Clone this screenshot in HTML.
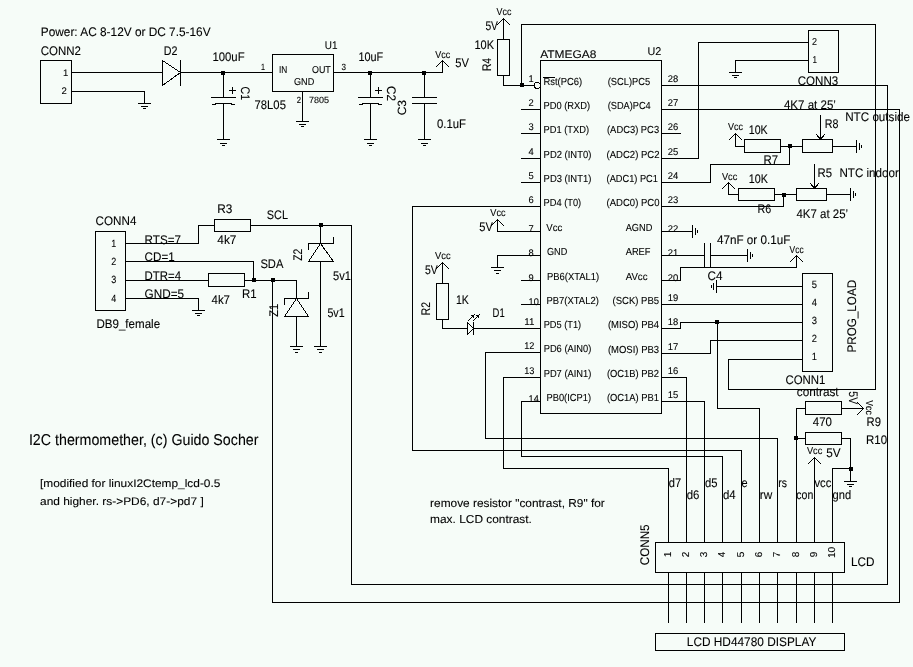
<!DOCTYPE html>
<html><head><meta charset="utf-8"><style>
html,body{margin:0;padding:0;background:#f6fcf8;}
svg{display:block;}
.w polyline,.w line,.w rect,.w circle{fill:none;stroke:#000;stroke-width:1;stroke-linecap:square;}
.w rect.f,.w polygon.f{fill:#000;stroke:none;}
.t text{font-family:"Liberation Sans",sans-serif;fill:#000;stroke:#000;stroke-width:0.1;}
</style></head><body>
<svg width="913" height="667" viewBox="0 0 913 667">
<rect width="913" height="667" fill="#f6fcf8"/>
<g class="w" shape-rendering="crispEdges">
<rect x="40.5" y="60.5" width="31" height="43"/>
<polyline points="71.5,72.5 162.5,72.5"/>
<polyline points="162.5,60.5 162.5,85.5 180.5,72.5 162.5,60.5"/>
<polyline points="180.5,60.5 180.5,85.5"/>
<polyline points="180.5,72.5 272.5,72.5"/>
<rect class="f" x="221" y="71" width="4" height="4"/>
<polyline points="223.5,72.5 223.5,97.5"/>
<polyline points="211.5,97.5 235.5,97.5"/>
<polyline points="212.5,104.5 215.5,104.5 215.5,103.5 231.5,103.5 231.5,104.5 234.5,104.5"/>
<polyline points="223.5,103.5 223.5,139.5"/>
<polyline points="217.5,139.5 229.5,139.5"/>
<polyline points="220.5,143.5 226.5,143.5"/>
<polyline points="222.5,145.5 224.5,145.5"/>
<polyline points="229.5,90.5 235.5,90.5"/>
<polyline points="232.5,87.5 232.5,93.5"/>
<polyline points="71.5,91.5 144.5,91.5 144.5,103.5"/>
<polyline points="138.5,103.5 150.5,103.5"/>
<polyline points="141.5,106.5 147.5,106.5"/>
<polyline points="143.5,108.5 145.5,108.5"/>
<rect x="272.5" y="54.5" width="61" height="37"/>
<polyline points="302.5,91.5 302.5,121.5"/>
<polyline points="296.5,121.5 308.5,121.5"/>
<polyline points="299.5,124.5 305.5,124.5"/>
<polyline points="301.5,126.5 303.5,126.5"/>
<polyline points="333.5,72.5 442.5,72.5"/>
<rect class="f" x="368" y="71" width="4" height="4"/>
<polyline points="370.5,72.5 370.5,97.5"/>
<polyline points="358.5,97.5 382.5,97.5"/>
<polyline points="359.5,104.5 362.5,104.5 362.5,103.5 378.5,103.5 378.5,104.5 381.5,104.5"/>
<polyline points="370.5,103.5 370.5,139.5"/>
<polyline points="364.5,139.5 376.5,139.5"/>
<polyline points="367.5,143.5 373.5,143.5"/>
<polyline points="369.5,145.5 371.5,145.5"/>
<polyline points="375.5,90.5 381.5,90.5"/>
<polyline points="378.5,87.5 378.5,93.5"/>
<rect class="f" x="422" y="71" width="4" height="4"/>
<polyline points="424.5,72.5 424.5,97.5"/>
<polyline points="412.5,97.5 436.5,97.5"/>
<polyline points="412.5,103.5 436.5,103.5"/>
<polyline points="424.5,103.5 424.5,139.5"/>
<polyline points="418.5,139.5 430.5,139.5"/>
<polyline points="421.5,143.5 427.5,143.5"/>
<polyline points="423.5,145.5 425.5,145.5"/>
<polyline points="442.5,72.5 442.5,60.5"/>
<polyline points="436.5,66.5 442.5,60.5 448.5,66.5"/>
<polyline points="503.5,18.5 503.5,39.5"/>
<polyline points="497.5,24.5 503.5,18.5 509.5,24.5"/>
<rect x="497.5" y="39.5" width="12" height="36"/>
<polyline points="503.5,75.5 503.5,85.5 534.5,85.5"/>
<rect class="f" x="520" y="83" width="4" height="4"/>
<polyline points="521.5,85.5 521.5,24.5 875.5,24.5 875.5,389.5"/>
<circle cx="537.3" cy="85.4" r="3"/>
<rect x="540.5" y="60.5" width="121" height="353"/>
<polyline points="521.5,109.5 540.5,109.5"/>
<polyline points="521.5,133.5 540.5,133.5"/>
<polyline points="521.5,158.5 540.5,158.5"/>
<polyline points="521.5,182.5 540.5,182.5"/>
<polyline points="521.5,280.5 540.5,280.5"/>
<polyline points="521.5,304.5 540.5,304.5"/>
<polyline points="521.5,401.5 540.5,401.5"/>
<polyline points="543.5,77.5 554.5,77.5"/>
<polyline points="412.5,450.5 412.5,206.5 540.5,206.5"/>
<polyline points="412.5,450.5 741.5,450.5 741.5,542.5"/>
<polyline points="540.5,231.5 497.5,231.5 497.5,219.5"/>
<polyline points="491.5,225.5 497.5,219.5 503.5,225.5"/>
<polyline points="540.5,255.5 497.5,255.5 497.5,267.5"/>
<polyline points="491.5,267.5 503.5,267.5"/>
<polyline points="494.5,270.5 500.5,270.5"/>
<polyline points="496.5,273.5 498.5,273.5"/>
<polyline points="442.5,262.5 442.5,283.5"/>
<polyline points="436.5,268.5 442.5,262.5 448.5,268.5"/>
<rect x="436.5" y="283.5" width="12" height="36"/>
<polyline points="442.5,319.5 442.5,328.5 467.5,328.5"/>
<polyline points="473.5,328.5 540.5,328.5"/>
<polyline points="467.5,322.5 467.5,334.5 473.5,328.5 467.5,322.5"/>
<polyline points="473.5,322.5 473.5,334.5"/>
<line x1="468.5" y1="320.5" x2="473.5" y2="315.5"/>
<line x1="473.5" y1="320.5" x2="478.5" y2="315.5"/>
<polygon class="f" points="475,314 471.5,315.5 473.5,317.5"/>
<polygon class="f" points="480,314 476.5,315.5 478.5,317.5"/>
<polyline points="540.5,352.5 485.5,352.5 485.5,438.5 777.5,438.5 777.5,542.5"/>
<polyline points="540.5,377.5 503.5,377.5 503.5,468.5 668.5,468.5 668.5,542.5"/>
<polyline points="521.5,401.5 521.5,456.5 722.5,456.5 722.5,542.5"/>
<polyline points="661.5,85.5 887.5,85.5 887.5,584.5 351.5,584.5"/>
<polyline points="661.5,109.5 899.5,109.5 899.5,602.5 272.5,602.5"/>
<polyline points="661.5,133.5 680.5,133.5"/>
<polyline points="661.5,158.5 698.5,158.5 698.5,42.5 808.5,42.5"/>
<rect x="808.5" y="30.5" width="30" height="42"/>
<polyline points="808.5,60.5 735.5,60.5 735.5,72.5"/>
<polyline points="729.5,72.5 741.5,72.5"/>
<polyline points="732.5,75.5 738.5,75.5"/>
<polyline points="734.5,77.5 736.5,77.5"/>
<polyline points="661.5,182.5 710.5,182.5 710.5,164.5 789.5,164.5 789.5,146.5"/>
<polyline points="729.5,139.5 735.5,133.5 741.5,139.5"/>
<polyline points="735.5,133.5 735.5,146.5 744.5,146.5"/>
<rect x="744.5" y="139.5" width="36" height="13"/>
<polyline points="780.5,146.5 802.5,146.5"/>
<rect class="f" x="788" y="144" width="4" height="4"/>
<rect x="802.5" y="139.5" width="30" height="13"/>
<polyline points="820.5,115.5 820.5,139.5"/>
<polyline points="816.5,134.5 820.5,139.5 824.5,134.5"/>
<polyline points="832.5,146.5 856.5,146.5"/>
<polyline points="856.5,140.5 856.5,152.5"/>
<polyline points="859.5,143.5 859.5,149.5"/>
<polyline points="861.5,145.5 861.5,147.5"/>
<polyline points="661.5,206.5 783.5,206.5 783.5,194.5"/>
<polyline points="722.5,188.5 728.5,182.5 734.5,188.5"/>
<polyline points="728.5,182.5 728.5,194.5 738.5,194.5"/>
<rect x="738.5" y="188.5" width="36" height="12"/>
<polyline points="774.5,194.5 796.5,194.5"/>
<rect class="f" x="782" y="193" width="4" height="4"/>
<rect x="796.5" y="188.5" width="30" height="12"/>
<polyline points="814.5,164.5 814.5,188.5"/>
<polyline points="810.5,183.5 814.5,188.5 818.5,183.5"/>
<polyline points="826.5,194.5 850.5,194.5"/>
<polyline points="850.5,188.5 850.5,200.5"/>
<polyline points="853.5,191.5 853.5,197.5"/>
<polyline points="855.5,193.5 855.5,195.5"/>
<polyline points="661.5,231.5 692.5,231.5"/>
<polyline points="692.5,225.5 692.5,237.5"/>
<polyline points="695.5,228.5 695.5,234.5"/>
<polyline points="697.5,230.5 697.5,232.5"/>
<polyline points="661.5,255.5 704.5,255.5"/>
<polyline points="704.5,243.5 704.5,267.5"/>
<polyline points="710.5,243.5 710.5,267.5"/>
<polyline points="710.5,255.5 747.5,255.5"/>
<polyline points="747.5,249.5 747.5,261.5"/>
<polyline points="750.5,252.5 750.5,258.5"/>
<polyline points="752.5,254.5 752.5,256.5"/>
<polyline points="661.5,280.5 680.5,280.5 680.5,267.5 796.5,267.5 796.5,255.5"/>
<polyline points="790.5,261.5 796.5,255.5 802.5,261.5"/>
<rect x="802.5" y="273.5" width="30" height="98"/>
<polyline points="716.5,280.5 716.5,292.5"/>
<polyline points="713.5,283.5 713.5,289.5"/>
<polyline points="711.5,285.5 711.5,287.5"/>
<polyline points="716.5,286.5 802.5,286.5"/>
<polyline points="661.5,304.5 802.5,304.5"/>
<polyline points="661.5,328.5 680.5,328.5 680.5,322.5 802.5,322.5"/>
<rect class="f" x="715" y="320" width="4" height="4"/>
<polyline points="717.5,322.5 717.5,408.5 759.5,408.5 759.5,542.5"/>
<polyline points="661.5,353.5 710.5,353.5 710.5,340.5 802.5,340.5"/>
<polyline points="802.5,359.5 728.5,359.5 728.5,389.5 875.5,389.5"/>
<polyline points="661.5,377.5 686.5,377.5 686.5,542.5"/>
<polyline points="661.5,401.5 704.5,401.5 704.5,542.5"/>
<rect x="805.5" y="401.5" width="36" height="13"/>
<polyline points="796.5,408.5 805.5,408.5"/>
<polyline points="796.5,408.5 796.5,542.5"/>
<polyline points="841.5,408.5 863.5,408.5"/>
<polyline points="857.5,402.5 863.5,408.5 857.5,414.5"/>
<rect x="805.5" y="432.5" width="36" height="12"/>
<rect class="f" x="794" y="436" width="4" height="4"/>
<polyline points="796.5,438.5 805.5,438.5"/>
<polyline points="841.5,438.5 850.5,438.5 850.5,481.5"/>
<rect class="f" x="849" y="467" width="4" height="4"/>
<polyline points="850.5,468.5 832.5,468.5 832.5,542.5"/>
<polyline points="844.5,481.5 856.5,481.5"/>
<polyline points="847.5,484.5 853.5,484.5"/>
<polyline points="849.5,486.5 851.5,486.5"/>
<polyline points="808.5,463.5 814.5,457.5 820.5,463.5"/>
<polyline points="814.5,457.5 814.5,542.5"/>
<rect x="655.5" y="542.5" width="189" height="30"/>
<rect x="655.5" y="633.5" width="189" height="17"/>
<polyline points="668.5,572.5 668.5,622.5"/>
<polyline points="686.5,572.5 686.5,622.5"/>
<polyline points="704.5,572.5 704.5,622.5"/>
<polyline points="722.5,572.5 722.5,622.5"/>
<polyline points="741.5,572.5 741.5,622.5"/>
<polyline points="759.5,572.5 759.5,622.5"/>
<polyline points="777.5,572.5 777.5,622.5"/>
<polyline points="796.5,572.5 796.5,622.5"/>
<polyline points="814.5,572.5 814.5,622.5"/>
<polyline points="832.5,572.5 832.5,622.5"/>
<rect x="95.5" y="231.5" width="30" height="79"/>
<polyline points="125.5,243.5 198.5,243.5 198.5,225.5 214.5,225.5"/>
<rect x="214.5" y="219.5" width="36" height="12"/>
<polyline points="250.5,225.5 351.5,225.5 351.5,584.5"/>
<rect class="f" x="319" y="223" width="4" height="4"/>
<polyline points="320.5,225.5 320.5,243.5"/>
<polyline points="308.5,249.5 308.5,243.5 333.5,243.5 333.5,237.5"/>
<polyline points="308.5,261.5 333.5,261.5 320.5,243.5 308.5,261.5"/>
<polyline points="320.5,261.5 320.5,346.5"/>
<polyline points="314.5,346.5 326.5,346.5"/>
<polyline points="317.5,349.5 323.5,349.5"/>
<polyline points="319.5,352.5 321.5,352.5"/>
<polyline points="125.5,261.5 253.5,261.5 253.5,280.5"/>
<polyline points="125.5,280.5 208.5,280.5"/>
<rect x="208.5" y="273.5" width="36" height="13"/>
<polyline points="244.5,280.5 296.5,280.5 296.5,298.5"/>
<rect class="f" x="252" y="278" width="4" height="4"/>
<rect class="f" x="271" y="278" width="4" height="4"/>
<polyline points="284.5,304.5 284.5,298.5 308.5,298.5 308.5,292.5"/>
<polyline points="284.5,316.5 308.5,316.5 296.5,298.5 284.5,316.5"/>
<polyline points="296.5,316.5 296.5,346.5"/>
<polyline points="290.5,346.5 302.5,346.5"/>
<polyline points="293.5,349.5 299.5,349.5"/>
<polyline points="295.5,352.5 297.5,352.5"/>
<polyline points="272.5,280.5 272.5,602.5"/>
<polyline points="125.5,298.5 198.5,298.5 198.5,310.5"/>
<polyline points="192.5,310.5 204.5,310.5"/>
<polyline points="195.5,313.5 201.5,313.5"/>
<polyline points="197.5,315.5 199.5,315.5"/>
</g>
<g class="t" style="will-change:transform" text-rendering="geometricPrecision">
<text x="40.8" y="35.7" font-size="12.4" textLength="169.8" lengthAdjust="spacingAndGlyphs">Power: AC 8-12V or DC 7.5-16V</text>
<text x="40.8" y="54.8" font-size="12.4" textLength="40.2" lengthAdjust="spacingAndGlyphs">CONN2</text>
<text x="63" y="76" font-size="9.5">1</text>
<text x="61.5" y="94.3" font-size="9.5">2</text>
<text x="163.8" y="54.8" font-size="12.5" textLength="13.7" lengthAdjust="spacingAndGlyphs">D2</text>
<text x="212.4" y="60.6" font-size="12.5" textLength="32.2" lengthAdjust="spacingAndGlyphs">100uF</text>
<text transform="translate(245.5,93.3) rotate(90)" x="0" y="4.5" font-size="12.5" text-anchor="middle" textLength="13.5" lengthAdjust="spacingAndGlyphs">C1</text>
<text x="254.6" y="108.6" font-size="12.5" textLength="31.3" lengthAdjust="spacingAndGlyphs">78L05</text>
<text x="324.8" y="48.5" font-size="11.3" textLength="12.7" lengthAdjust="spacingAndGlyphs">U1</text>
<text x="261" y="69.8" font-size="9" textLength="4" lengthAdjust="spacingAndGlyphs">1</text>
<text x="278.9" y="72.8" font-size="10" textLength="8.3" lengthAdjust="spacingAndGlyphs">IN</text>
<text x="312" y="72.8" font-size="10" textLength="18.8" lengthAdjust="spacingAndGlyphs">OUT</text>
<text x="294" y="85" font-size="10" textLength="20.2" lengthAdjust="spacingAndGlyphs">GND</text>
<text x="341.5" y="69.8" font-size="9" textLength="4.5" lengthAdjust="spacingAndGlyphs">3</text>
<text x="296.7" y="102.8" font-size="9" textLength="4.3" lengthAdjust="spacingAndGlyphs">2</text>
<text x="309.1" y="102.8" font-size="9" textLength="20" lengthAdjust="spacingAndGlyphs">7805</text>
<text x="358.4" y="61" font-size="12.5" textLength="24.8" lengthAdjust="spacingAndGlyphs">10uF</text>
<text transform="translate(391.5,93.5) rotate(90)" x="0" y="4.5" font-size="12.5" text-anchor="middle" textLength="15" lengthAdjust="spacingAndGlyphs">C2</text>
<text transform="translate(401.6,107.7) rotate(-90)" x="0" y="4.32" font-size="12" text-anchor="middle">C3</text>
<text x="437" y="127.5" font-size="12.5" textLength="29" lengthAdjust="spacingAndGlyphs">0.1uF</text>
<text x="435.2" y="57.9" font-size="10" textLength="15" lengthAdjust="spacingAndGlyphs">Vcc</text>
<text x="455.3" y="66.7" font-size="12.5" textLength="13.7" lengthAdjust="spacingAndGlyphs">5V</text>
<text x="496.6" y="14.8" font-size="10" textLength="14.8" lengthAdjust="spacingAndGlyphs">Vcc</text>
<text x="485.4" y="30" font-size="12.5" textLength="12.6" lengthAdjust="spacingAndGlyphs">5V</text>
<text x="474.4" y="49" font-size="12.5" textLength="19.6" lengthAdjust="spacingAndGlyphs">10K</text>
<text transform="translate(486.5,64.5) rotate(-90)" x="0" y="4.5" font-size="12.5" text-anchor="middle" textLength="13" lengthAdjust="spacingAndGlyphs">R4</text>
<text x="540.2" y="57.7" font-size="11.2" textLength="56.3" lengthAdjust="spacingAndGlyphs">ATMEGA8</text>
<text x="647.4" y="55" font-size="11.3" textLength="13.8" lengthAdjust="spacingAndGlyphs">U2</text>
<text x="528.6" y="81.7" font-size="9.7" textLength="5.2" lengthAdjust="spacingAndGlyphs">1</text>
<text x="528.6" y="105.7" font-size="9.7" textLength="5.2" lengthAdjust="spacingAndGlyphs">2</text>
<text x="528.6" y="129.7" font-size="9.7" textLength="5.2" lengthAdjust="spacingAndGlyphs">3</text>
<text x="528.6" y="154.7" font-size="9.7" textLength="5.2" lengthAdjust="spacingAndGlyphs">4</text>
<text x="528.6" y="178.7" font-size="9.7" textLength="5.2" lengthAdjust="spacingAndGlyphs">5</text>
<text x="528.6" y="202.7" font-size="9.7" textLength="5.2" lengthAdjust="spacingAndGlyphs">6</text>
<text x="528.6" y="231.5" font-size="9.7" textLength="5.2" lengthAdjust="spacingAndGlyphs">7</text>
<text x="528.6" y="255.5" font-size="9.7" textLength="5.2" lengthAdjust="spacingAndGlyphs">8</text>
<text x="528.6" y="280.5" font-size="9.7" textLength="5.2" lengthAdjust="spacingAndGlyphs">9</text>
<text x="528.6" y="304.5" font-size="9.7" textLength="10.2" lengthAdjust="spacingAndGlyphs">10</text>
<text x="524.2" y="324.7" font-size="9.7" textLength="10.2" lengthAdjust="spacingAndGlyphs">11</text>
<text x="524.2" y="348.7" font-size="9.7" textLength="10.2" lengthAdjust="spacingAndGlyphs">12</text>
<text x="524.2" y="373.7" font-size="9.7" textLength="10.2" lengthAdjust="spacingAndGlyphs">13</text>
<text x="528.6" y="401.5" font-size="9.7" textLength="10.2" lengthAdjust="spacingAndGlyphs">14</text>
<text x="667.8" y="81.7" font-size="9.7" textLength="10.5" lengthAdjust="spacingAndGlyphs">28</text>
<text x="667.8" y="105.7" font-size="9.7" textLength="10.5" lengthAdjust="spacingAndGlyphs">27</text>
<text x="667.8" y="129.7" font-size="9.7" textLength="10.5" lengthAdjust="spacingAndGlyphs">26</text>
<text x="667.8" y="154.7" font-size="9.7" textLength="10.5" lengthAdjust="spacingAndGlyphs">25</text>
<text x="667.8" y="178.7" font-size="9.7" textLength="10.5" lengthAdjust="spacingAndGlyphs">24</text>
<text x="667.8" y="202.7" font-size="9.7" textLength="10.5" lengthAdjust="spacingAndGlyphs">23</text>
<text x="667.8" y="231.5" font-size="9.7" textLength="10.5" lengthAdjust="spacingAndGlyphs">22</text>
<text x="667.8" y="255.5" font-size="9.7" textLength="10.5" lengthAdjust="spacingAndGlyphs">21</text>
<text x="667.8" y="280.5" font-size="9.7" textLength="10.5" lengthAdjust="spacingAndGlyphs">20</text>
<text x="667.8" y="300.7" font-size="9.7" textLength="10.5" lengthAdjust="spacingAndGlyphs">19</text>
<text x="667.8" y="324.7" font-size="9.7" textLength="10.5" lengthAdjust="spacingAndGlyphs">18</text>
<text x="667.8" y="349.7" font-size="9.7" textLength="10.5" lengthAdjust="spacingAndGlyphs">17</text>
<text x="667.8" y="373.7" font-size="9.7" textLength="10.5" lengthAdjust="spacingAndGlyphs">16</text>
<text x="667.8" y="397.7" font-size="9.7" textLength="10.5" lengthAdjust="spacingAndGlyphs">15</text>
<text x="543.5" y="85.3" font-size="10.2" textLength="38.7" lengthAdjust="spacingAndGlyphs">Rst(PC6)</text>
<text x="543.5" y="109.3" font-size="10.2" textLength="46.7" lengthAdjust="spacingAndGlyphs">PD0 (RXD)</text>
<text x="543.5" y="133.3" font-size="10.2" textLength="45.5" lengthAdjust="spacingAndGlyphs">PD1 (TXD)</text>
<text x="543.6" y="158.3" font-size="10.2" textLength="47.7" lengthAdjust="spacingAndGlyphs">PD2 (INT0)</text>
<text x="543.6" y="182.3" font-size="10.2" textLength="47.7" lengthAdjust="spacingAndGlyphs">PD3 (INT1)</text>
<text x="543.6" y="206.3" font-size="10.2" textLength="37.6" lengthAdjust="spacingAndGlyphs">PD4 (T0)</text>
<text x="546.3" y="231.3" font-size="10.2" textLength="16" lengthAdjust="spacingAndGlyphs">Vcc</text>
<text x="547" y="255.3" font-size="10.2" textLength="20.2" lengthAdjust="spacingAndGlyphs">GND</text>
<text x="547" y="280.3" font-size="10.2" textLength="52.2" lengthAdjust="spacingAndGlyphs">PB6(XTAL1)</text>
<text x="546.5" y="304.3" font-size="10.2" textLength="52.3" lengthAdjust="spacingAndGlyphs">PB7(XTAL2)</text>
<text x="543.7" y="328.3" font-size="10.2" textLength="37.4" lengthAdjust="spacingAndGlyphs">PD5 (T1)</text>
<text x="543.7" y="352.3" font-size="10.2" textLength="47.6" lengthAdjust="spacingAndGlyphs">PD6 (AIN0)</text>
<text x="543.7" y="377.3" font-size="10.2" textLength="47.6" lengthAdjust="spacingAndGlyphs">PD7 (AIN1)</text>
<text x="546.5" y="401.3" font-size="10.2" textLength="44.5" lengthAdjust="spacingAndGlyphs">PB0(ICP1)</text>
<text x="607.7" y="85.3" font-size="10.2" textLength="42.4" lengthAdjust="spacingAndGlyphs">(SCL)PC5</text>
<text x="607.7" y="109.3" font-size="10.2" textLength="43" lengthAdjust="spacingAndGlyphs">(SDA)PC4</text>
<text x="607" y="133.3" font-size="10.2" textLength="52.1" lengthAdjust="spacingAndGlyphs">(ADC3) PC3</text>
<text x="606.6" y="158.3" font-size="10.2" textLength="52.9" lengthAdjust="spacingAndGlyphs">(ADC2) PC2</text>
<text x="606.6" y="182.3" font-size="10.2" textLength="51.3" lengthAdjust="spacingAndGlyphs">(ADC1) PC1</text>
<text x="606.6" y="206.3" font-size="10.2" textLength="52.9" lengthAdjust="spacingAndGlyphs">(ADC0) PC0</text>
<text x="625.7" y="231.3" font-size="10.2" textLength="26.6" lengthAdjust="spacingAndGlyphs">AGND</text>
<text x="625.7" y="255.3" font-size="10.2" textLength="24.8" lengthAdjust="spacingAndGlyphs">AREF</text>
<text x="625.7" y="280.3" font-size="10.2" textLength="21.8" lengthAdjust="spacingAndGlyphs">AVcc</text>
<text x="612.5" y="304.3" font-size="10.2" textLength="46.6" lengthAdjust="spacingAndGlyphs">(SCK) PB5</text>
<text x="607.9" y="328.3" font-size="10.2" textLength="51.2" lengthAdjust="spacingAndGlyphs">(MISO) PB4</text>
<text x="607.9" y="353.3" font-size="10.2" textLength="51.2" lengthAdjust="spacingAndGlyphs">(MOSI) PB3</text>
<text x="606.9" y="377.3" font-size="10.2" textLength="52.2" lengthAdjust="spacingAndGlyphs">(OC1B) PB2</text>
<text x="606.9" y="401.3" font-size="10.2" textLength="52.2" lengthAdjust="spacingAndGlyphs">(OC1A) PB1</text>
<text x="490.3" y="216.2" font-size="10" textLength="15.2" lengthAdjust="spacingAndGlyphs">Vcc</text>
<text x="479.3" y="230.6" font-size="12.5" textLength="13.6" lengthAdjust="spacingAndGlyphs">5V</text>
<text x="435" y="259.3" font-size="10" textLength="15.6" lengthAdjust="spacingAndGlyphs">Vcc</text>
<text x="425" y="273.5" font-size="12.5" textLength="12.8" lengthAdjust="spacingAndGlyphs">5V</text>
<text transform="translate(425.5,308.6) rotate(-90)" x="0" y="4.5" font-size="12.5" text-anchor="middle" textLength="13.2" lengthAdjust="spacingAndGlyphs">R2</text>
<text x="455.9" y="303.8" font-size="12.5" textLength="12.9" lengthAdjust="spacingAndGlyphs">1K</text>
<text x="492.6" y="317" font-size="12.5" textLength="12.1" lengthAdjust="spacingAndGlyphs">D1</text>
<text x="812" y="44.5" font-size="10" textLength="5" lengthAdjust="spacingAndGlyphs">2</text>
<text x="812.5" y="63" font-size="10" textLength="4.5" lengthAdjust="spacingAndGlyphs">1</text>
<text x="797.7" y="84.8" font-size="12.5" textLength="40.5" lengthAdjust="spacingAndGlyphs">CONN3</text>
<text x="728" y="130.2" font-size="10" textLength="15" lengthAdjust="spacingAndGlyphs">Vcc</text>
<text x="748.8" y="133.5" font-size="12.5" textLength="18.9" lengthAdjust="spacingAndGlyphs">10K</text>
<text x="763.4" y="163.9" font-size="12.5" textLength="14.6" lengthAdjust="spacingAndGlyphs">R7</text>
<text x="824.7" y="127.9" font-size="12.5" textLength="13.7" lengthAdjust="spacingAndGlyphs">R8</text>
<text x="783.9" y="108.6" font-size="12.5" textLength="52" lengthAdjust="spacingAndGlyphs">4K7 at 25’</text>
<text x="845.2" y="121.4" font-size="12.5" textLength="64.8" lengthAdjust="spacingAndGlyphs">NTC outside</text>
<text x="722" y="180" font-size="10" textLength="15.3" lengthAdjust="spacingAndGlyphs">Vcc</text>
<text x="748.8" y="183" font-size="12.5" textLength="19.1" lengthAdjust="spacingAndGlyphs">10K</text>
<text x="757.5" y="212.6" font-size="12.5" textLength="13.7" lengthAdjust="spacingAndGlyphs">R6</text>
<text x="817.5" y="176.6" font-size="12.5" textLength="14.5" lengthAdjust="spacingAndGlyphs">R5</text>
<text x="839.4" y="176.6" font-size="12.5" textLength="59.4" lengthAdjust="spacingAndGlyphs">NTC indoor</text>
<text x="796.5" y="217.9" font-size="12.5" textLength="51.6" lengthAdjust="spacingAndGlyphs">4K7 at 25’</text>
<text x="716.9" y="244" font-size="12.5" textLength="73.4" lengthAdjust="spacingAndGlyphs">47nF or 0.1uF</text>
<text x="789.6" y="253" font-size="10" textLength="14" lengthAdjust="spacingAndGlyphs">Vcc</text>
<text x="707.5" y="279.8" font-size="12.5" textLength="15" lengthAdjust="spacingAndGlyphs">C4</text>
<text x="811.7" y="288" font-size="10.5" textLength="5.2" lengthAdjust="spacingAndGlyphs">5</text>
<text x="811.7" y="306" font-size="10.5" textLength="5.2" lengthAdjust="spacingAndGlyphs">4</text>
<text x="811.7" y="324" font-size="10.5" textLength="5.2" lengthAdjust="spacingAndGlyphs">3</text>
<text x="811.7" y="342" font-size="10.5" textLength="5.2" lengthAdjust="spacingAndGlyphs">2</text>
<text x="811.7" y="360" font-size="10.5" textLength="5.2" lengthAdjust="spacingAndGlyphs">1</text>
<text transform="translate(851.8,316.2) rotate(-90)" x="0" y="4.5" font-size="12.5" text-anchor="middle" textLength="72.7" lengthAdjust="spacingAndGlyphs">PROG_LOAD</text>
<text x="785.4" y="383.8" font-size="12.5" textLength="40" lengthAdjust="spacingAndGlyphs">CONN1</text>
<text x="796.8" y="395.6" font-size="12.5" textLength="41.8" lengthAdjust="spacingAndGlyphs">contrast</text>
<text transform="translate(853.8,397.8) rotate(90)" x="0" y="4.5" font-size="12.5" text-anchor="middle" textLength="13" lengthAdjust="spacingAndGlyphs">5V</text>
<text transform="translate(869.4,407.5) rotate(90)" x="0" y="3.6" font-size="10" text-anchor="middle" textLength="14.4" lengthAdjust="spacingAndGlyphs">Vcc</text>
<text x="812.8" y="425.7" font-size="12.5" textLength="19.2" lengthAdjust="spacingAndGlyphs">470</text>
<text x="866.6" y="425.7" font-size="12.5" textLength="14.4" lengthAdjust="spacingAndGlyphs">R9</text>
<text x="866" y="444.4" font-size="12.5" textLength="21" lengthAdjust="spacingAndGlyphs">R10</text>
<text x="807" y="453.6" font-size="10" textLength="15.3" lengthAdjust="spacingAndGlyphs">Vcc</text>
<text x="826.3" y="456.5" font-size="12.5" textLength="14.4" lengthAdjust="spacingAndGlyphs">5V</text>
<text x="668.8" y="487.2" font-size="12.5" textLength="12.4" lengthAdjust="spacingAndGlyphs">d7</text>
<text x="686.7" y="499.4" font-size="12.5" textLength="12.7" lengthAdjust="spacingAndGlyphs">d6</text>
<text x="704.9" y="487.2" font-size="12.5" textLength="12.5" lengthAdjust="spacingAndGlyphs">d5</text>
<text x="722.9" y="499.4" font-size="12.5" textLength="12.7" lengthAdjust="spacingAndGlyphs">d4</text>
<text x="741.5" y="487.2" font-size="12.5" textLength="6.1" lengthAdjust="spacingAndGlyphs">e</text>
<text x="759.7" y="499.4" font-size="12.5" textLength="12.5" lengthAdjust="spacingAndGlyphs">rw</text>
<text x="778.3" y="487.2" font-size="12.5" textLength="8.7" lengthAdjust="spacingAndGlyphs">rs</text>
<text x="796.3" y="499.4" font-size="12.5" textLength="17" lengthAdjust="spacingAndGlyphs">con</text>
<text x="814.4" y="487.2" font-size="12.5" textLength="16.9" lengthAdjust="spacingAndGlyphs">vcc</text>
<text x="832.6" y="499.4" font-size="12.5" textLength="18.6" lengthAdjust="spacingAndGlyphs">gnd</text>
<text transform="translate(667.5,554.4) rotate(-90)" x="0" y="3.6" font-size="10" text-anchor="middle">1</text>
<text transform="translate(685.5,554.4) rotate(-90)" x="0" y="3.6" font-size="10" text-anchor="middle">2</text>
<text transform="translate(703.5,554.4) rotate(-90)" x="0" y="3.6" font-size="10" text-anchor="middle">3</text>
<text transform="translate(721.5,554.4) rotate(-90)" x="0" y="3.6" font-size="10" text-anchor="middle">4</text>
<text transform="translate(740.5,554.4) rotate(-90)" x="0" y="3.6" font-size="10" text-anchor="middle">5</text>
<text transform="translate(758.5,554.4) rotate(-90)" x="0" y="3.6" font-size="10" text-anchor="middle">6</text>
<text transform="translate(776.5,554.4) rotate(-90)" x="0" y="3.6" font-size="10" text-anchor="middle">7</text>
<text transform="translate(795.5,554.4) rotate(-90)" x="0" y="3.6" font-size="10" text-anchor="middle">8</text>
<text transform="translate(813.5,554.4) rotate(-90)" x="0" y="3.6" font-size="10" text-anchor="middle">9</text>
<text transform="translate(831.5,552.5) rotate(-90)" x="0" y="3.6" font-size="10" text-anchor="middle">10</text>
<text transform="translate(644.2,544.8) rotate(-90)" x="0" y="4.5" font-size="12.5" text-anchor="middle" textLength="40.8" lengthAdjust="spacingAndGlyphs">CONN5</text>
<text x="851" y="565.8" font-size="12.5" textLength="23.5" lengthAdjust="spacingAndGlyphs">LCD</text>
<text x="686.8" y="646" font-size="12.5" textLength="129.6" lengthAdjust="spacingAndGlyphs">LCD HD44780 DISPLAY</text>
<text x="95.6" y="225" font-size="12.5" textLength="40.8" lengthAdjust="spacingAndGlyphs">CONN4</text>
<text x="111.2" y="247" font-size="10.5" textLength="5" lengthAdjust="spacingAndGlyphs">1</text>
<text x="111.2" y="265" font-size="10.5" textLength="5" lengthAdjust="spacingAndGlyphs">2</text>
<text x="111.2" y="283" font-size="10.5" textLength="5" lengthAdjust="spacingAndGlyphs">3</text>
<text x="111.2" y="302" font-size="10.5" textLength="5" lengthAdjust="spacingAndGlyphs">4</text>
<text x="144.6" y="243.6" font-size="12.5" textLength="36.4" lengthAdjust="spacingAndGlyphs">RTS=7</text>
<text x="144.6" y="261.2" font-size="12.5" textLength="30.1" lengthAdjust="spacingAndGlyphs">CD=1</text>
<text x="144.6" y="279.6" font-size="12.5" textLength="36.4" lengthAdjust="spacingAndGlyphs">DTR=4</text>
<text x="144.6" y="298.2" font-size="12.5" textLength="39.4" lengthAdjust="spacingAndGlyphs">GND=5</text>
<text x="96.4" y="328" font-size="12.5" textLength="63.7" lengthAdjust="spacingAndGlyphs">DB9_female</text>
<text x="217.3" y="212.8" font-size="12.5" textLength="15.1" lengthAdjust="spacingAndGlyphs">R3</text>
<text x="217.3" y="244" font-size="12.5" textLength="19.2" lengthAdjust="spacingAndGlyphs">4k7</text>
<text x="266.8" y="219" font-size="12.5" textLength="21.2" lengthAdjust="spacingAndGlyphs">SCL</text>
<text transform="translate(297.5,254.7) rotate(-90)" x="0" y="4.5" font-size="12.5" text-anchor="middle" textLength="12" lengthAdjust="spacingAndGlyphs">Z2</text>
<text x="333" y="280.2" font-size="12.5" textLength="17.9" lengthAdjust="spacingAndGlyphs">5v1</text>
<text x="211.5" y="304" font-size="12.5" textLength="18.5" lengthAdjust="spacingAndGlyphs">4k7</text>
<text x="242" y="297.7" font-size="12.5" textLength="14.6" lengthAdjust="spacingAndGlyphs">R1</text>
<text x="260.4" y="268.3" font-size="12.5" textLength="23" lengthAdjust="spacingAndGlyphs">SDA</text>
<text transform="translate(273.7,310.2) rotate(-90)" x="0" y="4.5" font-size="12.5" text-anchor="middle" textLength="13" lengthAdjust="spacingAndGlyphs">Z1</text>
<text x="327.4" y="317.2" font-size="12.5" textLength="17.2" lengthAdjust="spacingAndGlyphs">5v1</text>
<text x="28.9" y="445.2" font-size="15.6" textLength="229.6" lengthAdjust="spacingAndGlyphs">I2C thermomether, (c) Guido Socher</text>
<text x="40" y="487.4" font-size="11" textLength="180.4" lengthAdjust="spacingAndGlyphs">[modified for linuxI2Ctemp_lcd-0.5</text>
<text x="40" y="504.6" font-size="11" textLength="163.7" lengthAdjust="spacingAndGlyphs">and higher. rs-&gt;PD6, d7-&gt;pd7 ]</text>
<text x="430.1" y="506.7" font-size="11.5" textLength="174.7" lengthAdjust="spacingAndGlyphs">remove resistor "contrast, R9" for</text>
<text x="430.1" y="523.3" font-size="11.5" textLength="101.8" lengthAdjust="spacingAndGlyphs">max. LCD contrast.</text>
</g>
</svg>
</body></html>
